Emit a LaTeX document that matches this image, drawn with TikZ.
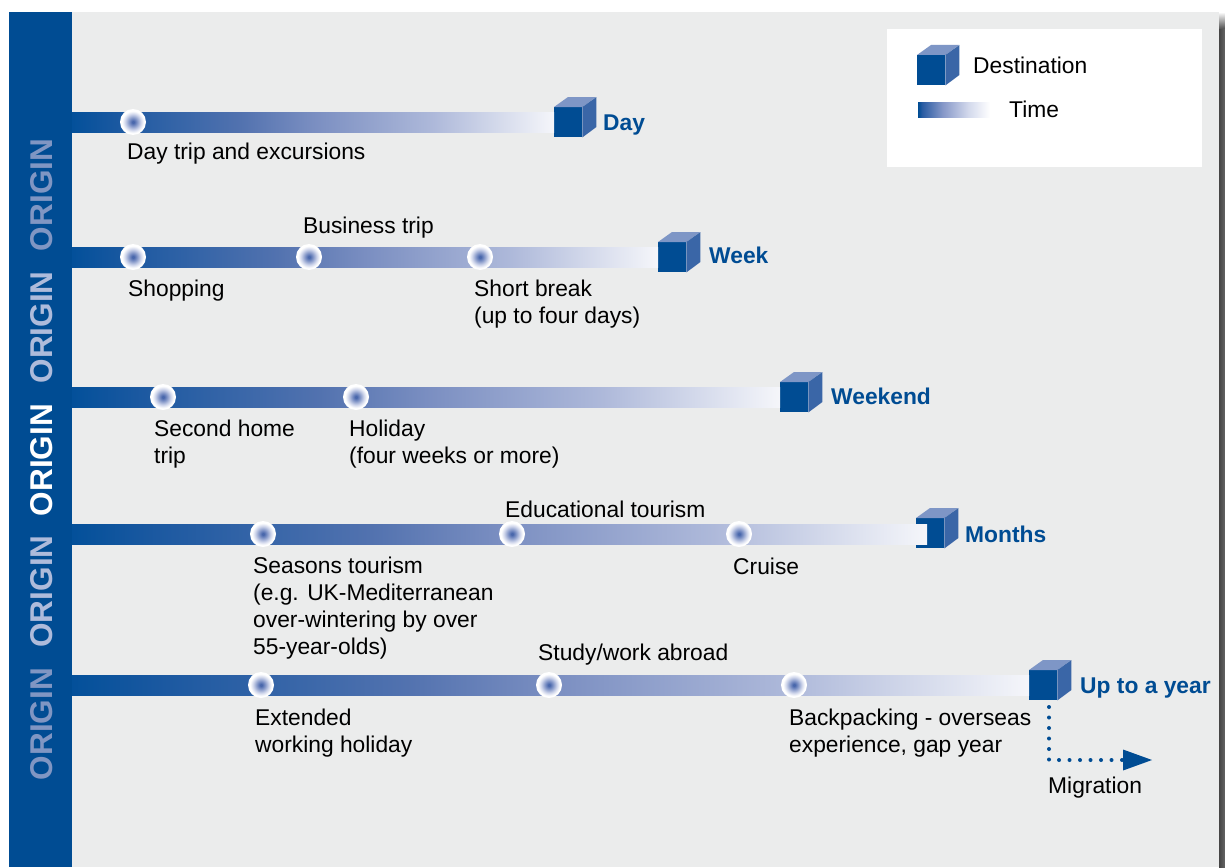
\documentclass[tikz,border=0pt]{standalone}
\usepackage{fontspec}
\setmainfont{Liberation Sans}
\usetikzlibrary{arrows.meta}

% palette
\definecolor{panel}{HTML}{EBECEC}
\definecolor{deepblue}{HTML}{004C93}
\definecolor{cubeside}{HTML}{3A66A7}
\definecolor{cubetop}{HTML}{7E96C6}
\definecolor{originA}{HTML}{8096C3}
\definecolor{originB}{HTML}{AEBBDB}
\definecolor{shadowdark}{HTML}{454545}
\definecolor{shadowlight}{HTML}{666666}
\definecolor{dotcore}{HTML}{4A68AC}
\definecolor{dotmid}{HTML}{7A8FC4}
\definecolor{dotpale}{HTML}{CDD4EA}
\definecolor{tbA}{HTML}{03509A}
\definecolor{tbB}{HTML}{1C59A1}
\definecolor{tbC}{HTML}{5272AF}
\definecolor{tbD}{HTML}{7A8EC1}
\definecolor{tbE}{HTML}{AEB9DA}
\definecolor{tbF}{HTML}{F5F6FA}
\definecolor{lgB}{HTML}{2A5CA3}
\definecolor{lgC}{HTML}{8597C8}
\definecolor{lgD}{HTML}{D3D9EC}

% time bars: dark blue fading towards the destination
\pgfdeclarehorizontalshading{timebar}{100bp}{color(0bp)=(tbA); color(25bp)=(tbA); color(30bp)=(tbB); color(42.5bp)=(tbC); color(50bp)=(tbD); color(62.5bp)=(tbE); color(75bp)=(tbF); color(100bp)=(tbF)}
\pgfdeclarehorizontalshading{legendbar}{100bp}{color(0bp)=(deepblue); color(25bp)=(deepblue); color(28bp)=(lgB); color(42bp)=(lgC); color(60bp)=(lgD); color(75bp)=(white); color(100bp)=(white)}
% glowing stop markers
\pgfdeclareradialshading{dotglow}{\pgfpoint{0bp}{0bp}}{color(0bp)=(dotcore); color(2bp)=(dotcore); color(7bp)=(dotmid); color(15bp)=(dotpale); color(21bp)=(white); color(25bp)=(white); color(50bp)=(white)}

\tikzset{
  lbl/.style={anchor=base west, inner sep=0pt, font=\fontsize{22.8}{27}\selectfont, align=left},
  dest/.style={anchor=base west, inner sep=0pt, font=\fontsize{22.8}{27}\selectfont\bfseries, text=deepblue},
  stopdot/.style={circle, minimum size=26pt, inner sep=0pt, shade, shading=dotglow},
  cubefront/.style={rectangle, fill=deepblue, minimum width=28pt, minimum height=30pt, inner sep=0pt, anchor=north west},
  timeline/.style={shade, shading=timebar},
  origin/.style={rotate=90, anchor=base, inner sep=0pt, font=\fontsize{31.5}{32}\selectfont\bfseries},
  migr/.style={draw=deepblue, line width=4pt, line cap=round, dash pattern=on 0pt off 10.5pt,
               -{Triangle[length=29pt,width=21pt,fill=deepblue,line width=0pt]}},
}

% destination cube: front face node plus top and side faces
\newcommand\destcube[3]{%
  \node[cubefront] (#1) at (#2,#3) {};
  \fill[cubetop] (#1.north west) -- ++(14,-10) -- ++(28,0) -- (#1.north east) -- cycle;
  \fill[cubeside] (#1.north east) -- ++(14,-10) -- ++(0,30) -- (#1.south east) -- cycle;
}

\begin{document}
\begin{tikzpicture}[x=1pt,y=-1pt]
\useasboundingbox (0,0) rectangle (1225,867);
\fill[white] (0,0) rectangle (1225,867);

% panel, origin column and right-hand shadow
\fill[panel] (72,12) rectangle (1219,867);
\fill[deepblue] (9,12) rectangle (72,867);
\shade[top color=white, bottom color=shadowdark] (1219,12) rectangle (1225,30);
\shade[left color=shadowdark, right color=shadowlight] (1219,30) rectangle (1225,867);

\node[origin, text=originA] (or1) at (52,195) {ORIGIN};
\node[origin, text=originB] (or2) at (52,327.5) {ORIGIN};
\node[origin, text=white]   (or3) at (52,460) {ORIGIN};
\node[origin, text=originB] (or4) at (52,591.5) {ORIGIN};
\node[origin, text=originA] (or5) at (52,724) {ORIGIN};

% legend
\fill[white] (887,29) rectangle (1202,167);
\destcube{legcube}{917}{55}
\node[lbl] (legdest) at (973,74) {Destination};
\shade[shading=legendbar] (918,102) rectangle (990,117);
\node[lbl] (legtime) at (1009,117) {Time};

% destination cubes
\destcube{daycube}{554}{107}
\destcube{weekcube}{658}{242}
\destcube{weekendcube}{780}{382}
\destcube{monthscube}{916}{518}
\destcube{yearcube}{1029}{670}

% time bars
\shade[timeline] (72,112) rectangle (554,132);
\shade[timeline] (72,247) rectangle (658,267);
\shade[timeline] (72,387) rectangle (780,407);
\shade[timeline] (72,524) rectangle (927,544);
\shade[timeline] (72,675) rectangle (1029,695);

% stops
\node[stopdot] (s11) at (133,122) {};
\node[stopdot] (s21) at (133,257) {};
\node[stopdot] (s22) at (309,257) {};
\node[stopdot] (s23) at (480,257) {};
\node[stopdot] (s31) at (163,397) {};
\node[stopdot] (s32) at (356,397) {};
\node[stopdot] (s41) at (263,534) {};
\node[stopdot] (s42) at (512,534) {};
\node[stopdot] (s43) at (739,534) {};
\node[stopdot] (s51) at (261,685) {};
\node[stopdot] (s52) at (549,685) {};
\node[stopdot] (s53) at (794,685) {};

% destination labels
\node[dest] (dday) at (603,130) {Day};
\node[dest] (dweek) at (709,263) {Week};
\node[dest] (dweekend) at (831,404) {Weekend};
\node[dest] (dmonths) at (965,542) {Months};
\node[dest] (dyear) at (1080,693) {Up to a year};

% trip labels (multi-line labels are placed by their last baseline)
\node[lbl] (t11) at (127,159) {Day trip and excursions};
\node[lbl] (t21) at (128,296) {Shopping};
\node[lbl] (t22) at (303,233) {Business trip};
\node[lbl] (t23) at (474,323) {Short break\\(up to four days)};
\node[lbl] (t31) at (154,463) {Second home\\trip};
\node[lbl] (t32) at (349,463) {Holiday\\(four weeks or more)};
\node[lbl] (t41) at (253,654) {Seasons tourism\\(e.g. UK-Mediterranean\\over-wintering by over\\55-year-olds)};
\node[lbl] (t42) at (505,517) {Educational tourism};
\node[lbl] (t43) at (733,574) {Cruise};
\node[lbl] (t51) at (255,752) {Extended\\working holiday};
\node[lbl] (t52) at (538,660) {Study/work abroad};
\node[lbl] (t53) at (789,752) {Backpacking - overseas\\experience, gap year};

% migration
\coordinate (migtop) at (1049,707);
\coordinate (migbend) at (1049,760);
\coordinate (migend) at (1152,760);
\draw[migr] (migtop) -- (migbend) -- (migend);
\node[lbl] (tmig) at (1048,793) {Migration};
\end{tikzpicture}
\end{document}
